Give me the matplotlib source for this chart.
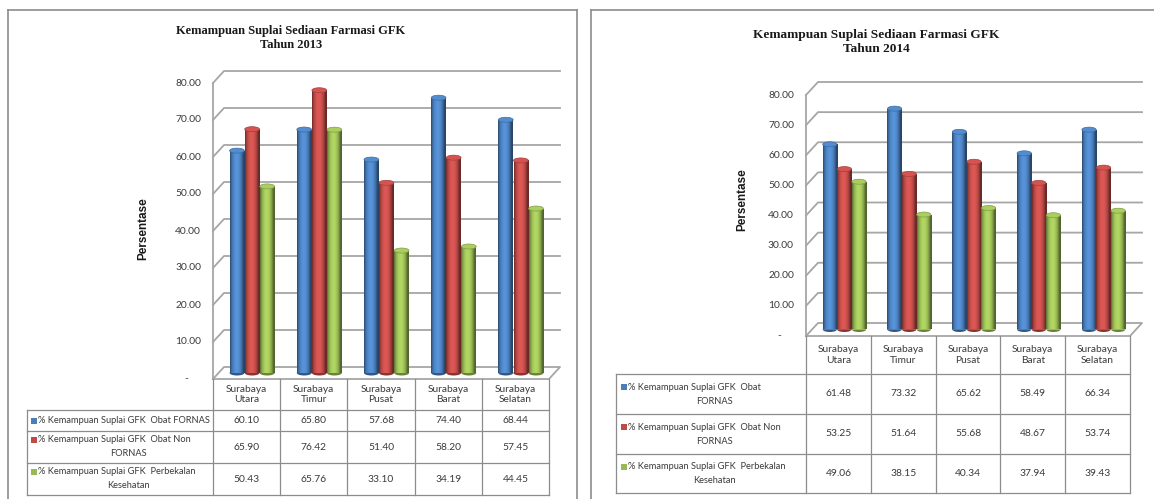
import numpy as np
import matplotlib
matplotlib.use("Agg")
import matplotlib.pyplot as plt
from matplotlib.patches import Ellipse, Rectangle
from matplotlib.lines import Line2D
import matplotlib.colors as mcolors

# ---------------- data ----------------
categories = ["Surabaya\nUtara", "Surabaya\nTimur", "Surabaya\nPusat", "Surabaya\nBarat", "Surabaya\nSelatan"]
series_labels_2013 = ["% Kemampuan Suplai GFK  Obat FORNAS",
                      "% Kemampuan Suplai GFK  Obat Non\nFORNAS",
                      "% Kemampuan Suplai GFK  Perbekalan\nKesehatan"]
series_labels_2014 = ["% Kemampuan Suplai GFK  Obat\nFORNAS",
                      "% Kemampuan Suplai GFK  Obat Non\nFORNAS",
                      "% Kemampuan Suplai GFK  Perbekalan\nKesehatan"]
fornas_2013 = [60.10, 65.80, 57.68, 74.40, 68.44]
nonfornas_2013 = [65.90, 76.42, 51.40, 58.20, 57.45]
perbekalan_2013 = [50.43, 65.76, 33.10, 34.19, 44.45]
fornas_2014 = [61.48, 73.32, 65.62, 58.49, 66.34]
nonfornas_2014 = [53.25, 51.64, 55.68, 48.67, 53.74]
perbekalan_2014 = [49.06, 38.15, 40.34, 37.94, 39.43]
yticks = [10, 20, 30, 40, 50, 60, 70, 80]
ytick_labels = ["10.00", "20.00", "30.00", "40.00", "50.00", "60.00", "70.00", "80.00"]
titles = ["Kemampuan Suplai Sediaan Farmasi GFK\nTahun 2013",
          "Kemampuan Suplai Sediaan Farmasi GFK\nTahun 2014"]
ylabel = "Persentase"

colors = ["#4A7EBB", "#BE4B48", "#98B954"]

W, H, DPI = 1154, 499, 100
fig = plt.figure(figsize=(W / DPI, H / DPI), dpi=DPI)
fig.patch.set_facecolor("white")

SANS = ["Lato", "DejaVu Sans"]
SERIF = ["Liberation Serif", "DejaVu Serif"]
TXT = "#3a3a3a"


def fig_xy(x, y):
    return x / W, 1 - y / H


def draw_panel(series, labels, title, L):
    fx0, fy0 = fig_xy(L["x0"], L["y0"])
    fx1, fy1 = fig_xy(L["x1"], L["ytop"])
    ax = fig.add_axes([fx0, fy0, fx1 - fx0, fy1 - fy0])
    ax.set_xlim(0, len(categories))
    ax.set_ylim(0, 80)
    ax.axis("off")
    ax.set_autoscale_on(False)

    ppx = (L["x1"] - L["x0"]) / len(categories)   # pixels per x unit
    ppy = (L["y0"] - L["ytop"]) / 80.0            # pixels per y unit
    dx = L["depth"][0] / ppx
    dy = L["depth"][1] / ppy

    def X(px):
        return (px - L["x0"]) / ppx

    def Y(py):
        return (L["y0"] - py) / ppy

    gc = "#A6A6A6"
    glw = 1.3
    n = len(categories)
    for v in yticks:
        ax.plot([0, dx, n + dx], [v, v + dy, v + dy], color=gc, lw=glw, clip_on=False, zorder=1)
    ax.plot([0, n, n + dx, dx, 0], [0, 0, dy, dy, 0], color=gc, lw=glw, clip_on=False, zorder=1)
    ax.plot([0, 0], [0, 80], color=gc, lw=glw, clip_on=False, zorder=1)

    pad = 12 / ppx
    for v, lab in zip(yticks, ytick_labels):
        ax.text(-pad, v, lab, ha="right", va="center", fontsize=7.4, family=SANS, color=TXT)
    ax.text(-pad - 15 / ppx, 0, "-", ha="center", va="center", fontsize=7.4, family=SANS, color=TXT)

    # cylinders
    w = 0.22
    sp = 0.225
    eh = 5.0 / ppy
    t = np.linspace(0, 1, 64)
    shade = 0.55 + 0.62 * np.sin(np.pi * np.clip(t * 1.12, 0, 1)) ** 0.7
    z = 3
    for i in range(n):
        for k, vals in enumerate(series):
            v = vals[i]
            xc = i + 0.5 + dx / 2 + (k - 1) * sp
            base = np.array(mcolors.to_rgb(colors[k]))
            dark = base * 0.7
            ax.add_patch(Ellipse((xc, dy / 2), w, eh, facecolor=dark, edgecolor="none",
                                 zorder=z, clip_on=False))
            bars = ax.bar([xc], [v], width=w, bottom=dy / 2, color=colors[k],
                          zorder=z + 0.1, clip_on=False)
            rect = bars[0]
            img = np.clip(base[None, None, :] * shade[None, :, None], 0, 1)
            im = ax.imshow(img, extent=[xc - w / 2, xc + w / 2, dy / 2, dy / 2 + v],
                           aspect="auto", zorder=z + 0.2, interpolation="bilinear")
            im.set_clip_path(rect)
            top = np.clip(base * 1.12, 0, 1)
            ax.add_patch(Ellipse((xc, dy / 2 + v), w, eh, facecolor=top,
                                 edgecolor=base * 0.85, lw=0.5, zorder=z + 0.3, clip_on=False))
            z += 1
    ax.set_xlim(0, n)
    ax.set_ylim(0, 80)

    # ---------- data table ----------
    tc = "#8C8C8C"
    tlw = 0.9
    rows = L["rows"]
    hy0, hy1 = Y(L["y0"]), Y(rows[0])
    for j in range(n + 1):
        ax.plot([j, j], [hy0, Y(rows[-1])], color=tc, lw=tlw, clip_on=False)
    xl = X(L["label_left"])
    ax.plot([xl, xl], [Y(rows[0]), Y(rows[-1])], color=tc, lw=tlw, clip_on=False)
    for r in rows:
        ax.plot([xl, n], [Y(r), Y(r)], color=tc, lw=tlw, clip_on=False)
    for j, cat in enumerate(categories):
        ax.text(j + 0.5, (hy0 + hy1) / 2, cat, ha="center", va="center", fontsize=7.4,
                family=SANS, color=TXT, linespacing=1.2)
    for k, vals in enumerate(series):
        yc = (Y(rows[k]) + Y(rows[k + 1])) / 2
        for j, v in enumerate(vals):
            ax.text(j + 0.5, yc, f"{v:.2f}", ha="center", va="center", fontsize=7.4,
                    family=SANS, color=TXT)
        lines = labels[k].split("\n")
        if len(lines) == 1:
            ypos = [yc]
        else:
            ypos = [yc + L["lh"] / 2 / ppy, yc - L["lh"] / 2 / ppy]
        kx = X(L["label_left"] + L["key_dx"])
        ksz = 6
        ax.add_patch(Rectangle((kx, ypos[0] - ksz / 2 / ppy), ksz / ppx, ksz / ppy,
                               facecolor=colors[k], edgecolor="none", clip_on=False))
        tx0 = X(L["label_left"] + L["key_dx"] + 7)
        ax.text(tx0, ypos[0], lines[0], ha="left", va="center", fontsize=6.7,
                family=SANS, color=TXT)
        if len(lines) > 1:
            ax.text(X(L["line2_x"]), ypos[1], lines[1], ha="center", va="center",
                    fontsize=6.7, family=SANS, color=TXT)

    tx, ty = fig_xy(L["title_x"], L["title_y"])
    fig.text(tx, ty, title, ha="center", va="center", fontsize=L["title_fs"], family=SERIF,
             fontweight="bold", color="#1a1a1a", linespacing=1.15)
    lx, ly = fig_xy(L["ylab_x"], L["ylab_y"])
    fig.text(lx, ly, ylabel, ha="center", va="center", rotation=90, fontsize=8.5,
             family=["Liberation Sans", "DejaVu Sans"], fontweight="bold", color="#1a1a1a")
    return ax


L2013 = dict(x0=213, x1=549, y0=379, ytop=83, depth=(11, 12), rows=[410, 431, 463, 495],
             label_left=27, key_dx=4, line2_x=128, lh=14,
             title_x=291, title_y=38, title_fs=9.0, ylab_x=143, ylab_y=229)
L2014 = dict(x0=806, x1=1130, y0=336, ytop=95, depth=(12, 13), rows=[374, 414, 454, 493],
             label_left=616, key_dx=5, line2_x=714, lh=14,
             title_x=876, title_y=42, title_fs=9.6, ylab_x=742, ylab_y=200)

draw_panel([fornas_2013, nonfornas_2013, perbekalan_2013], series_labels_2013, titles[0], L2013)
draw_panel([fornas_2014, nonfornas_2014, perbekalan_2014], series_labels_2014, titles[1], L2014)

bc = "#8C8C8C"
for xs, ys in [([8, 8], [499, 10]), ([8, 577], [10, 10]), ([577, 577], [10, 499]),
               ([591, 591], [499, 10]), ([591, 1154], [10, 10])]:
    fig.add_artist(Line2D([x / W for x in xs], [1 - y / H for y in ys], color=bc, lw=1.2,
                          transform=fig.transFigure))

fig.savefig("out.png", dpi=DPI, facecolor="white")
